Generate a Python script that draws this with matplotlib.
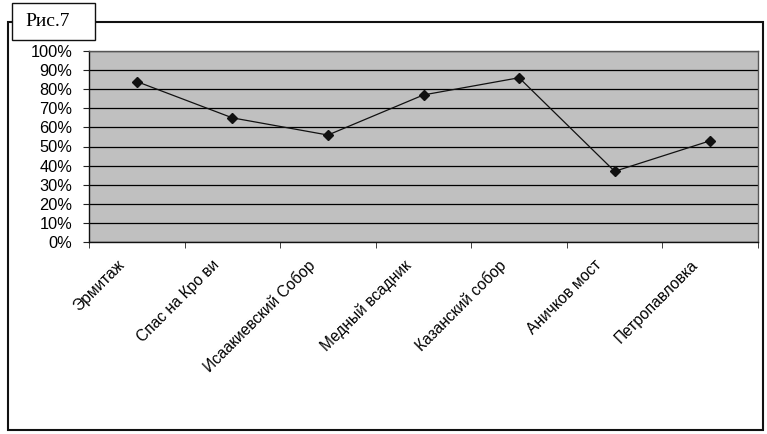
import matplotlib
matplotlib.use("Agg")
import matplotlib.pyplot as plt
from matplotlib.patches import Rectangle
import matplotlib.transforms as mtransforms
import numpy as np

categories = ["Эрмитаж", "Спас на Кро ви", "Исаакиевский Собор", "Медный всадник",
              "Казанский собор", "Аничков мост", "Петропавловка"]
values = [84, 65, 56, 77, 86, 37, 53]
yticks = [0, 10, 20, 30, 40, 50, 60, 70, 80, 90, 100]
ytick_labels = [f"{v}%" for v in yticks]
title = "Рис.7"

W, H = 767, 434
fig = plt.figure(figsize=(W / 100, H / 100), dpi=100)
fig.patch.set_facecolor("white")

# outer frame
fig.patches.append(Rectangle((8 / W, 1 - 430 / H), (763 - 8) / W, (430 - 22) / H,
                             transform=fig.transFigure, fill=False,
                             edgecolor="#111111", linewidth=1.5, zorder=1))

ax = fig.add_axes([89 / W, 1 - 242 / H, (758 - 89) / W, (242 - 51) / H])
ax.set_facecolor("#c0c0c0")
x = np.arange(len(categories))
ax.plot(x, values, color="#111111", linewidth=0.9, marker="D", markersize=5.5,
        markerfacecolor="#111111", markeredgecolor="#111111", zorder=3)

ax.set_xlim(-0.5, len(categories) - 0.5)
ax.set_ylim(0, 100)
ax.set_yticks(yticks)
ax.set_yticklabels(ytick_labels, fontfamily="Liberation Sans", fontsize=11.8)
ax.yaxis.grid(True, color="#000000", linewidth=0.9)
ax.set_axisbelow(True)

ax.set_xticks(x)
ax.set_xticklabels(categories, rotation=45, ha="right", va="center",
                   rotation_mode="anchor",
                   fontfamily="Liberation Sans", fontsize=11.2)
ax.tick_params(axis="x", which="major", length=0, pad=15)
offset = mtransforms.ScaledTranslation(-15 / 100, 0, fig.dpi_scale_trans)
for lbl in ax.get_xticklabels():
    lbl.set_transform(lbl.get_transform() + offset)
ax.set_xticks(np.arange(-0.5, len(categories)), minor=True)
ax.tick_params(axis="x", which="minor", length=4, direction="out", color="#222222")
ax.tick_params(axis="y", length=4, direction="out", color="#222222", pad=8)

for side in ["left", "bottom"]:
    ax.spines[side].set_color("#111111")
    ax.spines[side].set_linewidth(1.0)
for side in ["top", "right"]:
    ax.spines[side].set_color("#555555")
    ax.spines[side].set_linewidth(1.0)

# title box
fig.patches.append(Rectangle((12 / W, 1 - 40 / H), (95 - 12) / W, (40 - 3) / H,
                             transform=fig.transFigure, facecolor="white",
                             edgecolor="#111111", linewidth=1.0, zorder=5))
fig.text(48 / W, 1 - 21 / H, title, ha="center", va="center",
         fontfamily="Liberation Serif", fontsize=14, zorder=6)

fig.savefig("out.png", dpi=100)
